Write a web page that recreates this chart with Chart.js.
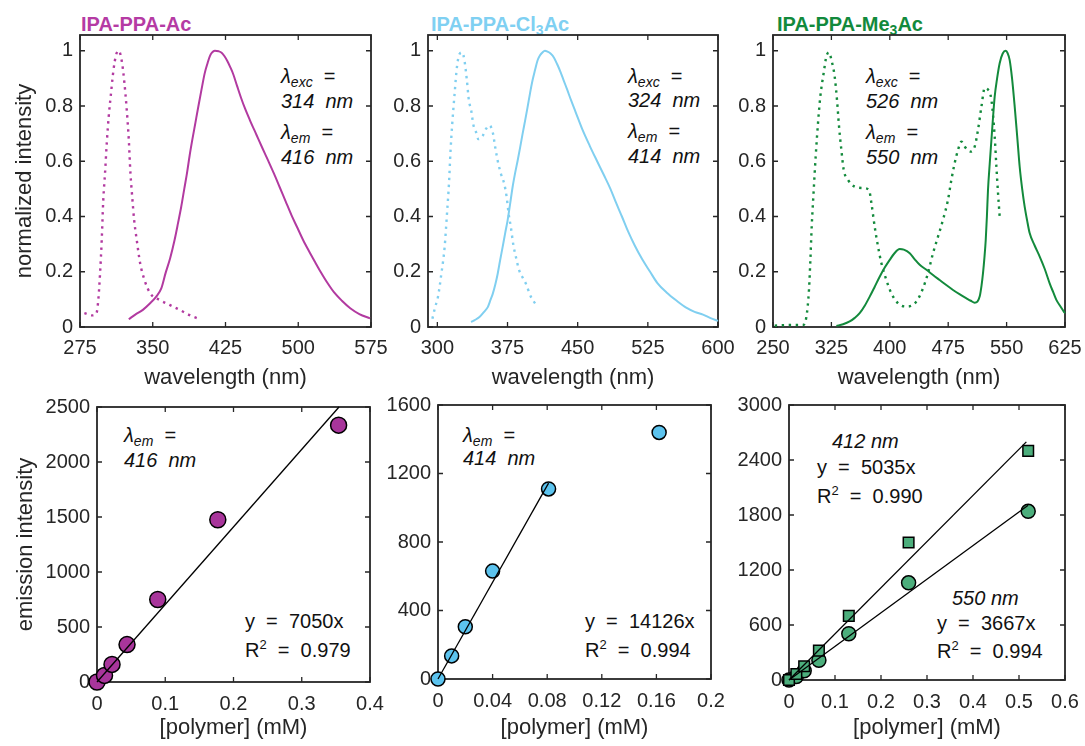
<!DOCTYPE html>
<html><head><meta charset="utf-8">
<script src="https://cdn.jsdelivr.net/npm/chart.js@4.4.1/dist/chart.umd.min.js"></script>
<style>
html,body{margin:0;padding:0;width:1085px;height:746px;overflow:hidden;background:#fff;}
canvas{position:absolute;}
.t{position:absolute;font-family:'Liberation Sans',Arial,Helvetica,sans-serif;font-size:20px;line-height:20px;color:#111;white-space:pre;}
.i{font-style:italic;}
.h{font-weight:bold;}
.t sub{font-size:14px;line-height:0;vertical-align:-4px;}
.t sup{font-size:13px;line-height:0;vertical-align:8px;}
</style></head><body>

<div class="t h" style="left:81px;top:14px;color:#b53ba4">IPA-PPA-Ac</div>
<div class="t h" style="left:431px;top:14px;color:#7fd0f2">IPA-PPA-Cl<sub>3</sub>Ac</div>
<div class="t h" style="left:777px;top:14px;color:#128a3c">IPA-PPA-Me<sub>3</sub>Ac</div>

<div class="t" style="left:281px;top:66px"><span class="i">λ<sub>exc</sub></span>  =</div>
<div class="t i" style="left:281px;top:91px">314  nm</div>
<div class="t" style="left:281px;top:122px"><span class="i">λ<sub>em</sub></span>  =</div>
<div class="t i" style="left:281px;top:147px">416  nm</div>

<div class="t" style="left:628px;top:66px"><span class="i">λ<sub>exc</sub></span>  =</div>
<div class="t i" style="left:628px;top:90px">324  nm</div>
<div class="t" style="left:628px;top:121px"><span class="i">λ<sub>em</sub></span>  =</div>
<div class="t i" style="left:628px;top:146px">414  nm</div>

<div class="t" style="left:866px;top:66px"><span class="i">λ<sub>exc</sub></span>  =</div>
<div class="t i" style="left:866px;top:91px">526  nm</div>
<div class="t" style="left:866px;top:122px"><span class="i">λ<sub>em</sub></span>  =</div>
<div class="t i" style="left:866px;top:147px">550  nm</div>

<div class="t" style="left:124px;top:425px"><span class="i">λ<sub>em</sub></span>  =</div>
<div class="t i" style="left:124px;top:450px">416  nm</div>
<div class="t" style="left:245px;top:611px">y  =  7050x</div>
<div class="t" style="left:245px;top:640px">R<sup>2</sup>  =  0.979</div>

<div class="t" style="left:463px;top:425px"><span class="i">λ<sub>em</sub></span>  =</div>
<div class="t i" style="left:463px;top:448px">414  nm</div>
<div class="t" style="left:585px;top:611px">y  =  14126x</div>
<div class="t" style="left:585px;top:640px">R<sup>2</sup>  =  0.994</div>

<div class="t i" style="left:832px;top:431px">412 nm</div>
<div class="t" style="left:817px;top:457px">y  =  5035x</div>
<div class="t" style="left:817px;top:486px">R<sup>2</sup>  =  0.990</div>
<div class="t i" style="left:952px;top:588px">550 nm</div>
<div class="t" style="left:937px;top:613px">y  =  3667x</div>
<div class="t" style="left:937px;top:641px">R<sup>2</sup>  =  0.994</div>

<script>
// ---------- DATA ----------
// Panel 1: IPA-PPA-Ac spectra
const P1_EXC_X = [279.5,287.4,292,294,295.7,297.4,299,300.8,302.6,304.6,307,309.5,312.2,315,318.4,320.8,323.2,325.3,327,328.8,330.8,333.5,337,341.5,347.4,357,367.4,377.7,388,398.4];
const P1_EXC_Y = [0.05,0.042,0.05,0.104,0.195,0.315,0.46,0.557,0.666,0.762,0.847,0.93,0.985,1.0,0.955,0.883,0.786,0.678,0.557,0.472,0.388,0.315,0.231,0.17,0.122,0.098,0.08,0.062,0.043,0.028];
const P1_EM_X = [325.3,332,339.8,347,353.6,358.8,363.2,368,372.5,376,379.4,382.5,385.3,388,390.8,394,397,400.3,403.6,406.5,408.8,411,414,418,421,424,427,430,433,437,441,445,450,457,463,469,475,481,487,493,499,505,511,517,523,530,537,545,553.6,563,574];
const P1_EM_Y = [0.028,0.045,0.062,0.085,0.11,0.14,0.195,0.25,0.315,0.375,0.436,0.5,0.557,0.62,0.678,0.74,0.798,0.86,0.919,0.955,0.98,0.993,1.0,0.998,0.993,0.98,0.962,0.94,0.915,0.872,0.83,0.792,0.75,0.695,0.648,0.602,0.555,0.505,0.455,0.405,0.36,0.315,0.275,0.237,0.2,0.16,0.125,0.095,0.068,0.047,0.031];

// Panel 2: IPA-PPA-Cl3Ac spectra
const P2_EXC_X = [294.7,297.5,300.7,304.3,307.8,310.3,312.4,314.1,315.9,318.4,320.9,323.7,326.6,329,331.6,333.7,336.1,338.6,341.4,343.9,348.6,352,355.6,359.2,361.9,364.5,368,371.5,374.1,376.2,378.6,381.1,384,387.5,391,394.6,399.9,404.5];
const P2_EXC_Y = [0.03,0.07,0.11,0.193,0.29,0.41,0.518,0.638,0.735,0.843,0.94,0.988,0.994,0.964,0.892,0.82,0.785,0.73,0.705,0.68,0.693,0.717,0.73,0.705,0.65,0.602,0.554,0.518,0.47,0.41,0.361,0.3,0.253,0.205,0.18,0.157,0.11,0.085];
const P2_EM_X = [336.1,340,345,350,353.9,357,359.2,362,364.5,367,369.8,372.5,375.1,377.8,380.4,383,385.8,388.5,391.1,393.8,396.4,399,401.7,404.4,407,409.6,412.3,415,417.6,421,424.7,428,431.8,435,438.9,443,447.8,455,463,470.8,478,485,491,497.3,504,511,519,527.4,535,545,555.8,566,575,584,592,600];
const P2_EM_Y = [0.018,0.025,0.036,0.055,0.072,0.1,0.12,0.155,0.193,0.24,0.29,0.34,0.386,0.446,0.506,0.555,0.602,0.65,0.699,0.747,0.795,0.845,0.892,0.93,0.964,0.983,0.994,1.0,0.997,0.99,0.975,0.952,0.922,0.893,0.858,0.82,0.778,0.715,0.655,0.6,0.55,0.5,0.45,0.4,0.345,0.295,0.245,0.2,0.16,0.125,0.095,0.07,0.055,0.045,0.032,0.022];

// Panel 3: IPA-PPA-Me3Ac spectra
const P3_EXC_X = [252.2,271.4,288.5,292.9,296.2,298,299.7,302.3,304.8,307.8,310.8,315.1,318.6,321.9,325,329.2,332.2,334.8,337.8,340.8,346.3,355,365.6,373.3,376.4,380.6,384.9,389.2,395.6,402,410.5,421.3,429.8,436,442.6,449,455.5,461.9,468.3,474.7,479.1,483.3,487.6,492,496.2,500,503.9,509,513.3,517.7,521.9,526.2,530.5,534.7,536.9,539,541.1];
const P3_EXC_Y = [0.005,0.007,0.007,0.037,0.134,0.243,0.363,0.496,0.617,0.738,0.835,0.92,0.98,0.994,0.967,0.907,0.822,0.726,0.641,0.569,0.533,0.508,0.503,0.496,0.448,0.363,0.291,0.231,0.17,0.122,0.086,0.074,0.08,0.1,0.14,0.195,0.267,0.327,0.388,0.46,0.533,0.593,0.641,0.671,0.653,0.64,0.635,0.653,0.714,0.798,0.865,0.859,0.822,0.69,0.58,0.484,0.4];
const P3_EM_X = [331.4,340,348.5,355,361.3,368,374.2,380.5,387,393.5,399.9,406,412.7,418,425.6,432,438.4,447,455.5,464,472.5,481.2,490,498.4,504,509,512.5,515.4,517.8,519.7,521.5,523.2,524.7,526.1,528.3,530.5,532.6,534.7,537.8,541.1,545,548.8,551.5,553.9,557,560.4,563.6,566.8,570,573.2,576.4,579.6,586,592.5,599,605.3,610,613.9,619,623.7,625];
const P3_EM_Y = [0.004,0.01,0.02,0.033,0.05,0.078,0.11,0.145,0.182,0.215,0.243,0.267,0.282,0.28,0.267,0.245,0.225,0.207,0.188,0.17,0.152,0.134,0.118,0.104,0.095,0.088,0.092,0.11,0.15,0.195,0.25,0.315,0.4,0.496,0.59,0.677,0.76,0.834,0.9,0.955,0.99,1.0,0.99,0.967,0.9,0.798,0.69,0.58,0.5,0.436,0.385,0.34,0.295,0.255,0.21,0.158,0.125,0.098,0.075,0.055,0.05];

// Panel 4: IPA-PPA-Ac calibration
const P4_CONC = [0,0.011,0.022,0.044,0.089,0.177,0.354];
const P4_INT  = [0,60,160,340,750,1475,2335];
const P4_FIT_X = [0,0.3546];
const P4_FIT_Y = [0,2500];

// Panel 5: IPA-PPA-Cl3Ac calibration
const P5_CONC = [0,0.01,0.02,0.04,0.081,0.162];
const P5_INT  = [0,135,305,630,1110,1440];
const P5_FIT_X = [0,0.081];
const P5_FIT_Y = [0,1144];

// Panel 6: IPA-PPA-Me3Ac calibration (412 nm squares, 550 nm circles)
const P6_CONC = [0,0.016,0.033,0.065,0.13,0.26,0.52];
const P6_INT_412 = [0,65,150,320,700,1500,2500];
const P6_INT_550 = [0,38,100,215,505,1060,1840];
const P6_FIT412_X = [0,0.516];
const P6_FIT412_Y = [0,2598];
const P6_FIT550_X = [0,0.52];
const P6_FIT550_Y = [0,1907];

// Tick values / labels
const NORM_TICKS = [0,0.2,0.4,0.6,0.8,1];
const NORM_LABELS = ['0','0.2','0.4','0.6','0.8','1'];
const P1_XTICKS = [275,350,425,500,575];
const P2_XTICKS = [300,375,450,525,600];
const P3_XTICKS = [250,325,400,475,550,625];
const P4_XTICKS = [0,0.1,0.2,0.3,0.4];
const P4_XLABELS = ['0','0.1','0.2','0.3','0.4'];
const P4_YTICKS = [0,500,1000,1500,2000,2500];
const P5_XTICKS = [0,0.04,0.08,0.12,0.16,0.2];
const P5_XLABELS = ['0','0.04','0.08','0.12','0.16','0.2'];
const P5_YTICKS = [0,400,800,1200,1600];
const P6_XTICKS = [0,0.1,0.2,0.3,0.4,0.5,0.6];
const P6_XLABELS = ['0','0.1','0.2','0.3','0.4','0.5','0.6'];
const P6_YTICKS = [0,600,1200,1800,2400,3000];

// ---------- RENDER ----------
Chart.defaults.font.family = "'Liberation Sans', Arial, Helvetica, sans-serif";
const AX = '#262626';
const MAG = '#b23aa0', MAG_M = '#a8359b';
const CYA = '#80cff0', CYA_M = '#5cc3ee';
const GRN = '#138a3c', GRN_M = '#4cae7c';

const pts = (xs, ys) => xs.map((x, i) => ({x: x, y: ys[i]}));

const frame = {
  id: 'frame',
  beforeDatasetsDraw(chart) {
    const {ctx, chartArea: a, scales: {x, y}} = chart;
    ctx.save();
    ctx.strokeStyle = AX;
    ctx.lineWidth = 1.8;
    ctx.strokeRect(a.left, a.top, a.right - a.left, a.bottom - a.top);
    const L = 5;
    ctx.lineWidth = 1.3;
    ctx.beginPath();
    x.ticks.forEach(t => {
      const p = x.getPixelForValue(t.value);
      ctx.moveTo(p, a.bottom); ctx.lineTo(p, a.bottom - L);
      ctx.moveTo(p, a.top); ctx.lineTo(p, a.top + L);
    });
    y.ticks.forEach(t => {
      const p = y.getPixelForValue(t.value);
      ctx.moveTo(a.left, p); ctx.lineTo(a.left + L, p);
      ctx.moveTo(a.right, p); ctx.lineTo(a.right - L, p);
    });
    ctx.stroke();
    ctx.restore();
  }
};

function solid(xs, ys, c) {
  return {data: pts(xs, ys), borderColor: c, borderWidth: 2, pointRadius: 0, fill: false,
    cubicInterpolationMode: 'monotone', clip: false};
}
function dotted(xs, ys, c) {
  return {data: pts(xs, ys), borderColor: c, borderWidth: 2.4, borderDash: [2.4, 4.6], pointRadius: 0,
    fill: false, cubicInterpolationMode: 'monotone', clip: false};
}
function fitLine(xs, ys) {
  return {data: pts(xs, ys), borderColor: '#000', borderWidth: 1.3, pointRadius: 0, fill: false, clip: false};
}
function markers(xs, ys, c, r, style) {
  return {data: pts(xs, ys), showLine: false, pointStyle: style || 'circle', pointRadius: r,
    pointBackgroundColor: c, pointBorderColor: '#000', pointBorderWidth: 1.5, clip: false};
}

function panel(o) {
  const W = o.yW, R = 24, T = 14, XH = 70;
  const b = o.box;
  const cw = W + (b.r - b.l) + R;
  const ch = T + (b.b - b.t) + XH;
  const cv = document.createElement('canvas');
  cv.width = cw; cv.height = ch;
  cv.style.left = (b.l - W) + 'px';
  cv.style.top = (b.t - T) + 'px';
  cv.style.width = cw + 'px';
  cv.style.height = ch + 'px';
  document.body.appendChild(cv);
  const TLH = 22 * 1.2 / 2;
  new Chart(cv, {
    type: 'line',
    data: {datasets: o.datasets},
    options: {
      responsive: false, animation: false, events: [],
      layout: {padding: {left: 0, top: T, right: R, bottom: 0}},
      plugins: {legend: {display: false}, tooltip: {enabled: false}},
      scales: {
        x: {
          type: 'linear', min: o.xMin, max: o.xMax,
          afterBuildTicks: s => { s.ticks = o.xTicks.map(v => ({value: v})); },
          afterFit: s => { s.height = XH; s.paddingLeft = 0; s.paddingRight = 0; },
          grid: {display: false, drawTicks: false}, border: {display: false},
          ticks: {padding: o.xPad || 9, color: AX, font: {size: 20}, maxRotation: 0, autoSkip: false,
            callback: (v, i) => o.xLabels[i]},
          title: {display: true, text: o.xTitle, color: AX, font: {size: 22},
            padding: {top: 0, bottom: b.b + XH - TLH - o.xTitleY}}
        },
        y: {
          type: 'linear', min: o.yMin, max: o.yMax,
          afterBuildTicks: s => { s.ticks = o.yTicks.map(v => ({value: v})); },
          afterFit: s => { s.width = W; s.paddingTop = 0; s.paddingBottom = 0; },
          grid: {display: false, drawTicks: false}, border: {display: false},
          ticks: {padding: 7, color: AX, font: {size: 20}, autoSkip: false,
            callback: (v, i) => o.yLabels[i]},
          title: {display: !!o.yTitle, text: o.yTitle || '', color: AX, font: {size: 22},
            padding: {top: o.yTitle ? (o.yTitleX - (b.l - W) - TLH) : 0, bottom: 0}}
        }
      }
    },
    plugins: [frame]
  });
}

const XT_SPEC = 'wavelength (nm)';
const XT_POLY = '[polymer] (mM)';

panel({box: {l: 80, t: 35, r: 371, b: 327}, yW: 80, yTitle: 'normalized intensity', yTitleX: 25,
  xMin: 275, xMax: 575, xTicks: P1_XTICKS, xLabels: P1_XTICKS.map(String), xTitle: XT_SPEC, xTitleY: 378,
  yMin: 0, yMax: 1.057, yTicks: NORM_TICKS, yLabels: NORM_LABELS,
  datasets: [solid(P1_EM_X, P1_EM_Y, MAG), dotted(P1_EXC_X, P1_EXC_Y, MAG)]});

panel({box: {l: 428, t: 35, r: 718, b: 327}, yW: 75,
  xMin: 290, xMax: 600, xTicks: P2_XTICKS, xLabels: P2_XTICKS.map(String), xTitle: XT_SPEC, xTitleY: 378,
  yMin: 0, yMax: 1.057, yTicks: NORM_TICKS, yLabels: NORM_LABELS,
  datasets: [solid(P2_EM_X, P2_EM_Y, CYA), dotted(P2_EXC_X, P2_EXC_Y, CYA)]});

panel({box: {l: 773, t: 35, r: 1065, b: 327}, yW: 75,
  xMin: 250, xMax: 625, xTicks: P3_XTICKS, xLabels: P3_XTICKS.map(String), xTitle: XT_SPEC, xTitleY: 378,
  yMin: 0, yMax: 1.057, yTicks: NORM_TICKS, yLabels: NORM_LABELS,
  datasets: [solid(P3_EM_X, P3_EM_Y, GRN), dotted(P3_EXC_X, P3_EXC_Y, GRN)]});

panel({box: {l: 97, t: 407, r: 370, b: 682}, yW: 97, yTitle: 'emission intensity', yTitleX: 26,
  xMin: 0, xMax: 0.4, xTicks: P4_XTICKS, xLabels: P4_XLABELS, xTitle: XT_POLY, xTitleY: 728, xPad: 10,
  yMin: 0, yMax: 2500, yTicks: P4_YTICKS, yLabels: P4_YTICKS.map(String),
  datasets: [fitLine(P4_FIT_X, P4_FIT_Y), markers(P4_CONC, P4_INT, MAG_M, 8)]});

panel({box: {l: 438, t: 405, r: 711, b: 679}, yW: 75,
  xMin: 0, xMax: 0.2, xTicks: P5_XTICKS, xLabels: P5_XLABELS, xTitle: XT_POLY, xTitleY: 728, xPad: 10,
  yMin: 0, yMax: 1600, yTicks: P5_YTICKS, yLabels: P5_YTICKS.map(String),
  datasets: [fitLine(P5_FIT_X, P5_FIT_Y), markers(P5_CONC, P5_INT, CYA_M, 7)]});

panel({box: {l: 789, t: 405, r: 1065, b: 680}, yW: 75,
  xMin: 0, xMax: 0.6, xTicks: P6_XTICKS, xLabels: P6_XLABELS, xTitle: XT_POLY, xTitleY: 728, xPad: 10,
  yMin: 0, yMax: 3000, yTicks: P6_YTICKS, yLabels: P6_YTICKS.map(String),
  datasets: [fitLine(P6_FIT412_X, P6_FIT412_Y), fitLine(P6_FIT550_X, P6_FIT550_Y),
    markers(P6_CONC, P6_INT_412, GRN_M, 7.5, 'rect'), markers(P6_CONC, P6_INT_550, GRN_M, 7)]});
</script>
</body></html>
